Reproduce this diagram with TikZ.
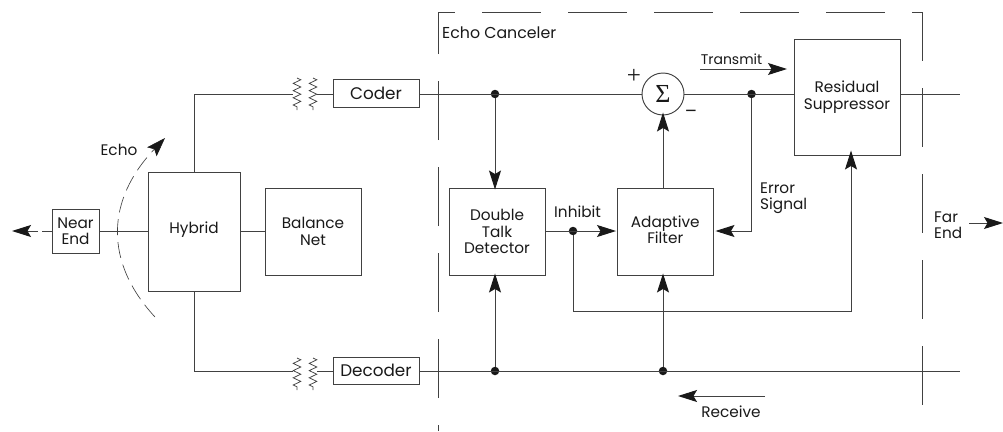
\documentclass[tikz,border=0pt]{standalone}
\usepackage{fontspec}
\setmainfont{Poppins}
\newfontfamily\symfont{Liberation Serif}
\usepackage{xcolor}
\usetikzlibrary{arrows.meta, decorations.pathmorphing}
\definecolor{LineGray}{RGB}{65, 65, 65}
\definecolor{TextDark}{RGB}{25, 25, 25}
\tikzset{
  wire/.style={LineGray, line width=0.95pt},
  flow/.style={wire, -{Stealth[length=19pt, width=12pt, inset=3.5pt, TextDark]}},
  blockbox/.style={draw=LineGray, line width=0.95pt, fill=white, inner sep=0pt, align=center, text=TextDark, font=\fontsize{15.3}{16.5}\selectfont},
  lbl/.style={inner sep=0pt, align=left, text=TextDark, font=\fontsize{15.3}{16.5}\selectfont},
  dotmark/.style={circle, fill=TextDark, inner sep=0pt, minimum size=8.5pt},
  coilline/.style={LineGray, line width=0.75pt, decorate, decoration={zigzag, segment length=7.2pt, amplitude=3.8pt}}
}
\begin{document}
\begin{tikzpicture}[x=1pt,y=-1pt]
  \path[use as bounding box] (0,0) rectangle (1003,431);
  % echo canceler frame
  \draw[LineGray, line width=0.95pt, dash pattern=on 59pt off 27pt, dash phase=53pt]
    (438,431) -- (438,12) -- (922,12) -- (922,431);
  % blocks
  \node[blockbox, minimum width=47pt, minimum height=44pt] (nearend) at (75.5,231) {Near\\End};
  \node[blockbox, minimum width=92pt, minimum height=119pt, text depth=8pt] (hybrid) at (194,231.5) {Hybrid};
  \node[blockbox, minimum width=96pt, minimum height=87pt] (balance) at (313,231.5) {Balance\\Net};
  \node[blockbox, minimum width=86pt, minimum height=28pt, font=\fontsize{16.8}{18}\selectfont] (coder) at (376,93.5) {Coder};
  \node[blockbox, minimum width=86pt, minimum height=27pt, font=\fontsize{16.8}{18}\selectfont] (decoder) at (376,370.5) {Decoder};
  \node[blockbox, minimum width=96pt, minimum height=87pt] (talk) at (497,231.5) {Double\\Talk\\Detector};
  \node[blockbox, minimum width=95.5pt, minimum height=87pt, text depth=4pt] (adaptive) at (665.25,231.5) {Adaptive\\Filter};
  \node[blockbox, minimum width=106pt, minimum height=116pt] (residual) at (847,97) {Residual\\Suppressor};
  \node[blockbox, circle, minimum size=42pt] (sum) at (663,94) {\symfont\fontsize{26}{26}\selectfont Σ};
  % junctions
  \node[dotmark] (jtop) at (495,94) {};
  \node[dotmark] (jerr) at (751.5,94) {};
  \node[dotmark] (jbot) at (495,371) {};
  \node[dotmark] (jfil) at (663,371) {};
  \node[dotmark] (jinh) at (573,231) {};
  % free ends
  \coordinate (coiltl) at (293,94);
  \coordinate (coiltr) at (317,94);
  \coordinate (coilbl) at (293,371);
  \coordinate (coilbr) at (317,371);
  \coordinate (toplimit) at (960,94);
  \coordinate (botlimit) at (960,371);
  \coordinate (leftend) at (12,231);
  \coordinate (corner) at (851,311);
  % transformer coils
  \foreach \x in {297,313}{
    \draw[coilline] (\x,78) -- (\x,110);
    \draw[coilline] (\x,358) -- (\x,390);
  }
  % near end side
  \draw[wire] (nearend.east |- 0,231) -- (hybrid.west |- 0,231);
  \draw[wire] (hybrid.east |- 0,231) -- (balance.west |- 0,231);
  \draw[wire, dash pattern=on 10pt off 4pt, -{Stealth[length=19pt, width=12pt, inset=3.5pt, TextDark]}] (nearend.west |- 0,231) -- (leftend);
  \draw[wire] (hybrid.north) |- (coiltl);
  \draw[wire] (hybrid.south) |- (coilbl);
  \draw[wire] (coiltr) -- (coder.west |- coiltr);
  \draw[wire] (coilbr) -- (decoder.west |- coilbr);
  % echo path
  \coordinate (echotip) at (165,138);
  \coordinate (echotail) at (155,317);
  \draw[LineGray, line width=0.65pt, dash pattern=on 16pt off 7pt, -{Stealth[length=19pt, width=13pt, inset=3.5pt, TextDark]}]
    (echotail) .. controls (104,262) and (106,200) .. (echotip);
  % main paths
  \draw[wire] (coder.east |- jtop) -- (sum.west);
  \draw[wire] (sum.east) -- (residual.west |- sum.east);
  \draw[wire] (residual.east |- toplimit) -- (toplimit);
  \draw[wire] (decoder.east |- botlimit) -- (botlimit);
  \draw[flow] (jtop) -- ([yshift=-2pt]talk.north -| jtop);
  \draw[flow] (jbot) -- ([yshift=2pt]talk.south -| jbot);
  \draw[flow] (jfil) -- ([yshift=2pt]adaptive.south -| jfil);
  \draw[flow] (adaptive.north -| sum) -- ([yshift=3pt]sum.south);
  \draw[flow] (talk.east |- jinh) -- ([xshift=-1pt]adaptive.west |- jinh);
  \draw[flow] (jerr) |- ([xshift=2pt]adaptive.east |- jinh);
  \draw[flow] (jinh) |- (corner) -- ([yshift=5pt]residual.south -| corner);
  % direction arrows
  \coordinate (txa) at (700,69);
  \coordinate (txb) at (787,69);
  \coordinate (rxa) at (765,396);
  \coordinate (rxb) at (678,396);
  \coordinate (fara) at (969,223);
  \coordinate (farb) at (1003,223);
  \draw[flow] (txa) -- (txb);
  \draw[flow] (rxa) -- (rxb);
  \draw[flow] (fara) -- (farb);
  % labels
  \node[lbl, anchor=west, font=\fontsize{15.8}{17}\selectfont] (title) at (442,33) {Echo Canceler};
  \node[lbl] (echolbl) at (119,150) {Echo};
  \node[lbl, font=\fontsize{14}{16}\selectfont] (txlbl) at (731.5,59) {Transmit};
  \node[lbl] (rxlbl) at (731,412) {Receive};
  \node[lbl, anchor=west] (inhlbl) at (554,212) {Inhibit};
  \node[lbl, anchor=west] (errlbl) at (760,198) {Error\\Signal};
  \node[lbl, anchor=west] (farlbl) at (934,225) {Far\\End};
  \node[lbl, font=\symfont\fontsize{25}{25}\selectfont] (pluslbl) at (634,76) {+};
  \node[lbl, font=\fontsize{18}{18}\selectfont] (minuslbl) at (691,114) {–};
\end{tikzpicture}
\end{document}
